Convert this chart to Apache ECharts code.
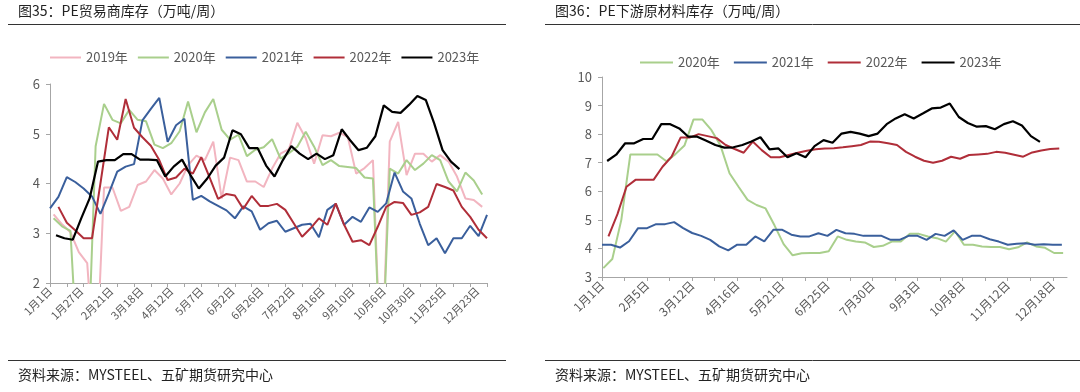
<!DOCTYPE html>
<html><head><meta charset="utf-8">
<script src="https://cdn.jsdelivr.net/npm/echarts@6/dist/echarts.min.js"></script>
<style>html,body{margin:0;padding:0;background:#fff;}#c{width:1080px;height:392px;}</style>
</head><body><div id="c"></div>
<script>
// ---------- Left chart: PE贸易商库存 ----------
const leftXLabels = ['1月1日','1月27日','2月21日','3月18日','4月12日','5月7日','6月2日','6月26日','7月22日','8月16日','9月10日','10月6日','10月30日','11月25日','12月23日'];
const leftXLabelDays = [0,26,51,76,101,126,152,176,202,227,252,278,302,328,356];
const leftYTicks = [2,3,4,5,6];
// weekly values; start day (day-of-year offset) for each series
const left2019Start = 3;
const left2019 = [3.38,3.18,3.02,2.62,2.40,0,3.92,3.92,3.45,3.53,3.97,4.04,4.27,4.10,3.78,4.00,4.37,4.56,4.47,4.84,3.70,4.52,4.47,4.04,4.04,3.93,4.30,4.60,4.69,5.22,4.91,4.40,4.97,4.95,5.02,4.94,4.20,4.31,4.47,0,4.84,5.24,4.17,4.60,4.60,4.44,4.57,4.44,4.14,3.70,3.67,3.53];
const left2020Start = 3;
const left2020 = [3.30,3.14,3.05,0,0,4.75,5.60,5.28,5.21,5.48,5.28,5.25,4.78,4.71,4.81,5.05,5.65,5.03,5.43,5.70,5.08,4.88,4.98,4.55,4.68,4.73,4.89,4.50,4.61,4.74,5.04,4.74,4.37,4.47,4.35,4.33,4.31,4.12,4.10,0,4.30,4.20,4.47,4.27,4.40,4.57,4.47,4.04,3.84,4.22,4.06,3.78];
const left2021Start = 0;
const left2021 = [3.50,3.73,4.13,4.03,3.90,3.74,3.39,3.80,4.24,4.34,4.39,5.27,5.50,5.72,4.84,5.17,5.30,3.67,3.75,3.64,3.55,3.46,3.30,3.54,3.44,3.07,3.20,3.25,3.03,3.10,3.17,3.19,2.92,3.47,3.59,3.17,3.33,3.23,3.52,3.43,3.60,4.22,3.84,3.70,3.19,2.76,2.90,2.60,2.90,2.90,3.15,2.94,3.37];
const left2022Start = 7;
const left2022 = [3.53,3.21,3.06,2.90,2.90,4.00,5.13,4.88,5.70,5.12,4.93,4.76,4.47,4.07,4.12,4.30,4.20,4.53,4.12,3.69,3.79,3.76,3.49,3.75,3.55,3.55,3.59,3.47,3.20,2.93,3.10,3.30,3.17,3.60,3.17,2.83,2.86,2.76,3.13,3.53,3.63,3.61,3.37,3.42,3.53,3.99,3.93,3.86,3.53,3.33,3.07,2.90];
const left2023Start = 5;
const left2023 = [2.96,2.90,2.87,3.30,3.70,4.44,4.47,4.47,4.59,4.59,4.48,4.48,4.47,4.14,4.34,4.48,4.17,3.90,4.10,4.36,4.52,5.07,4.99,4.71,4.71,4.36,4.14,4.47,4.75,4.60,4.49,4.60,4.49,4.57,5.09,4.87,4.67,4.72,4.95,5.57,5.44,5.42,5.58,5.76,5.68,5.21,4.67,4.44,4.29];

// ---------- Right chart: PE下游原材料库存 ----------
const rightXLabels = ['1月1日','2月5日','3月12日','4月16日','5月21日','6月25日','7月30日','9月3日','10月8日','11月12日','12月18日'];
const rightXLabelDays = [0,35,70,105,140,175,210,245,280,315,350];
const rightYTicks = [3,4,5,6,7,8,9,10];
const right2020Start = 1;
const right2020 = [3.31,3.63,5.00,7.29,7.29,7.29,7.29,7.05,7.30,7.60,8.51,8.51,8.14,7.60,6.63,6.16,5.70,5.52,5.40,4.80,4.15,3.76,3.83,3.84,3.84,3.90,4.42,4.30,4.24,4.21,4.05,4.09,4.24,4.24,4.51,4.51,4.42,4.36,4.24,4.60,4.13,4.13,4.07,4.05,4.05,3.97,4.04,4.21,4.07,4.02,3.84,3.84];
const right2021Start = 0;
const right2021 = [4.13,4.13,4.03,4.25,4.71,4.71,4.85,4.85,4.92,4.71,4.54,4.44,4.30,4.07,3.93,4.13,4.13,4.42,4.25,4.65,4.65,4.48,4.42,4.42,4.53,4.44,4.65,4.53,4.51,4.44,4.44,4.44,4.30,4.30,4.44,4.44,4.30,4.51,4.44,4.63,4.30,4.44,4.44,4.32,4.24,4.13,4.16,4.18,4.13,4.15,4.13,4.13];
const right2022Start = 5;
const right2022 = [4.42,5.20,6.16,6.40,6.40,6.40,6.86,7.21,7.88,7.88,8.00,7.93,7.86,7.62,7.48,7.35,7.74,7.44,7.19,7.19,7.27,7.35,7.42,7.47,7.50,7.51,7.54,7.58,7.62,7.74,7.73,7.68,7.62,7.38,7.21,7.07,7.00,7.07,7.21,7.14,7.27,7.29,7.31,7.38,7.35,7.28,7.21,7.36,7.43,7.48,7.50];
const right2023Start = 4;
const right2023 = [7.06,7.28,7.68,7.68,7.83,7.83,8.35,8.35,8.20,7.91,7.91,7.77,7.62,7.53,7.54,7.62,7.74,7.89,7.47,7.50,7.19,7.33,7.19,7.58,7.79,7.70,8.02,8.08,8.02,7.93,8.02,8.35,8.55,8.70,8.55,8.72,8.90,8.93,9.07,8.60,8.39,8.26,8.28,8.17,8.35,8.45,8.30,7.93,7.73];

const colors = {y2019:'#f2b5c0', y2020:'#a9cf8c', y2021:'#3a5f9c', y2022:'#b02e39', y2023:'#000000'};
const FONT = '"Noto Sans CJK SC","Noto Sans",sans-serif';

function weekly(start, vals){ return vals.map((v,i)=>[start + 7*i, v]); }
function steps(from, to, step){ const a=[]; for(let v=from; v<=to+1e-9; v+=step) a.push(v); return a; }

const axisGray = '#a6a6a6';
const labelGray = '#595959';

function xAxisCfg(gridIndex, max, tickDays, labelDays, labels, fs){
  return {
    type:'value', gridIndex, min:0, max,
    splitLine:{show:false},
    axisLine:{show:true, lineStyle:{color:axisGray, width:1}},
    axisTick:{show:true, length:4, lineStyle:{color:axisGray}, customValues:tickDays},
    axisLabel:{rotate:45, margin:6, color:labelGray, fontSize:fs, fontFamily:FONT,
      customValues:labelDays,
      formatter:(v)=>{ const i = labelDays.indexOf(v); return i>=0 ? labels[i] : ''; }}
  };
}
function yAxisCfg(gridIndex, ticks){
  return {
    type:'value', gridIndex, min:ticks[0], max:ticks[ticks.length-1], interval:1,
    splitLine:{show:false},
    axisLine:{show:true, lineStyle:{color:axisGray, width:1}},
    axisTick:{show:true, length:4, lineStyle:{color:axisGray}},
    axisLabel:{color:labelGray, fontSize:13, fontFamily:FONT, margin:10}
  };
}
function lineSeries(name, xi, start, vals, color, w){
  return {name, type:'line', xAxisIndex:xi, yAxisIndex:xi, data:weekly(start, vals),
    symbol:'none', showSymbol:false, smooth:false, clip:true,
    lineStyle:{color, width:w||2}, itemStyle:{color}, emphasis:{disabled:true}};
}

const chart = echarts.init(document.getElementById('c'), null, {renderer:'canvas'});
chart.setOption({
  animation:false,
  backgroundColor:'#ffffff',
  textStyle:{fontFamily:FONT},
  grid:[
    {left:50, top:84, width:437, height:199, containLabel:false},
    {left:602, top:77, width:465, height:200, containLabel:false}
  ],
  xAxis:[
    xAxisCfg(0, 364, steps(0,364,14), leftXLabelDays, leftXLabels, 11),
    xAxisCfg(1, 361, steps(0,350,17.5), rightXLabelDays, rightXLabels, 12)
  ],
  yAxis:[ yAxisCfg(0, leftYTicks), yAxisCfg(1, rightYTicks) ],
  legend:[
    {left:45, top:46, itemWidth:31, itemHeight:2, itemGap:10, icon:'rect',
     textStyle:{color:labelGray, fontSize:13, fontFamily:FONT},
     data:['2019年','2020年','2021年','2022年','2023年']},
    {left:635, top:51, itemWidth:33, itemHeight:2, itemGap:14, icon:'rect',
     textStyle:{color:labelGray, fontSize:13, fontFamily:FONT},
     data:['2020年','2021年','2022年','2023年']}
  ],
  series:[
    lineSeries('2019年',0,left2019Start,left2019,colors.y2019,2),
    lineSeries('2020年',0,left2020Start,left2020,colors.y2020,2),
    lineSeries('2021年',0,left2021Start,left2021,colors.y2021,2),
    lineSeries('2022年',0,left2022Start,left2022,colors.y2022,2),
    lineSeries('2023年',0,left2023Start,left2023,colors.y2023,2.2),
    lineSeries('2020年',1,right2020Start,right2020,colors.y2020,2),
    lineSeries('2021年',1,right2021Start,right2021,colors.y2021,2),
    lineSeries('2022年',1,right2022Start,right2022,colors.y2022,2),
    lineSeries('2023年',1,right2023Start,right2023,colors.y2023,2.2)
  ],
  graphic:[
    {type:'text', left:18, top:4, style:{text:'图35：PE贸易商库存（万吨/周）', fill:'#222', font:'14px '+FONT}},
    {type:'line', shape:{x1:8,y1:24.5,x2:506,y2:24.5}, style:{stroke:'#333', lineWidth:1}},
    {type:'text', left:555, top:4, style:{text:'图36：PE下游原材料库存（万吨/周）', fill:'#222', font:'14px '+FONT}},
    {type:'line', shape:{x1:545,y1:24.5,x2:1080,y2:24.5}, style:{stroke:'#333', lineWidth:1}},
    {type:'line', shape:{x1:8,y1:360.5,x2:506,y2:360.5}, style:{stroke:'#333', lineWidth:1}},
    {type:'line', shape:{x1:545,y1:360.5,x2:1080,y2:360.5}, style:{stroke:'#333', lineWidth:1}},
    {type:'text', left:18, top:368, style:{text:'资料来源：MYSTEEL、五矿期货研究中心', fill:'#222', font:'14px '+FONT}},
    {type:'text', left:555, top:368, style:{text:'资料来源：MYSTEEL、五矿期货研究中心', fill:'#222', font:'14px '+FONT}}
  ]
});
</script>
</body></html>
